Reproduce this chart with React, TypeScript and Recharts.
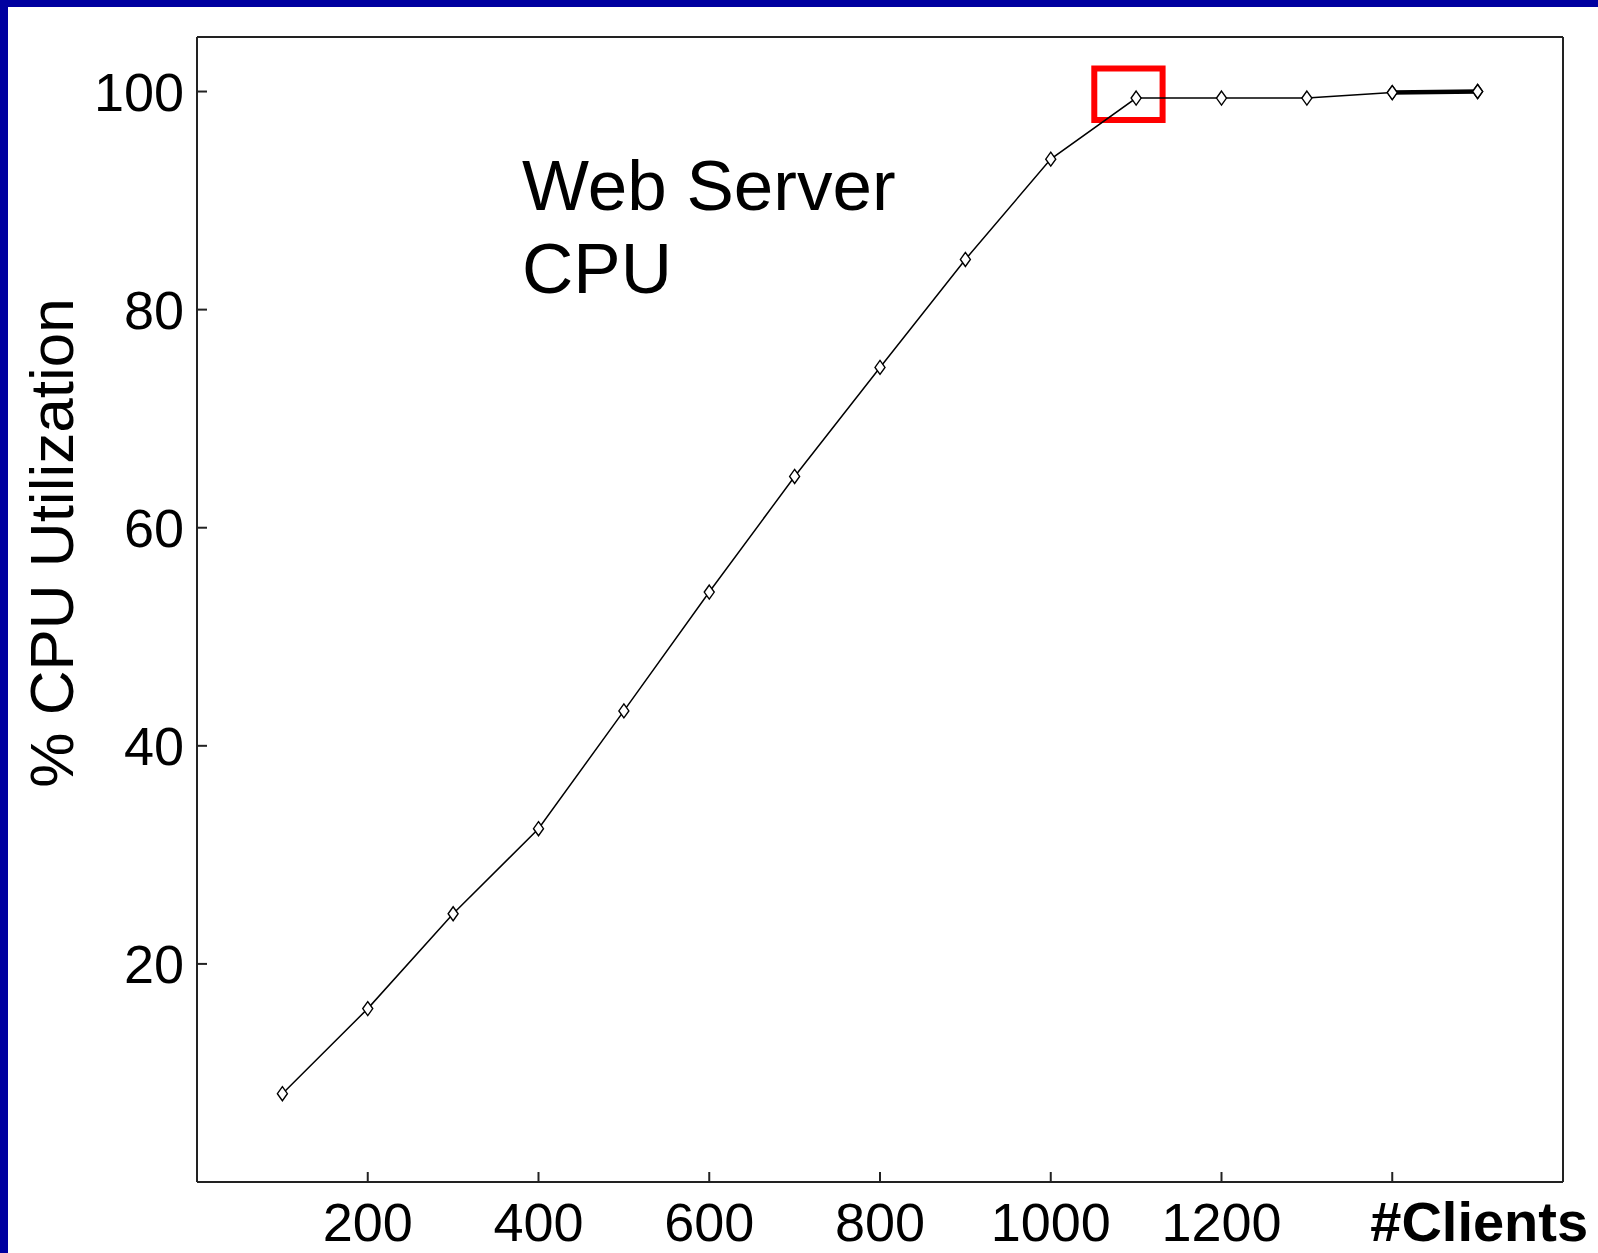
import React from 'react';
import { LineChart, Line, XAxis, YAxis, ReferenceArea } from 'recharts';

// ---- data ----
const clients = [100, 200, 300, 400, 500, 600, 700, 800, 900, 1000, 1100, 1200, 1300, 1400, 1500];
const cpuUtil = [8.1, 15.9, 24.6, 32.4, 43.2, 54.1, 64.7, 74.7, 84.6, 93.8, 99.4, 99.4, 99.4, 99.9, 100];
const saturatedClients = [1400, 1500];
const xTicks = [200, 400, 600, 800, 1000, 1200, 1400];
const xTickLabels = ['200', '400', '600', '800', '1000', '1200', '#Clients'];
const yTicks = [20, 40, 60, 80, 100];
const xDomain = [0, 1600];
const yDomain = [0, 105];
const highlightX = [1051, 1131];
const highlightY = [97.4, 102.1];
const titleLines = ['Web Server', 'CPU'];
const yAxisTitle = '% CPU Utilization';

const data = clients.map((c, i) => ({
  clients: c,
  cpu: cpuUtil[i],
  sat: saturatedClients.includes(c) ? cpuUtil[i] : null,
}));

// ---- layout ----
const W = 1598;
const H = 1253;
const PLOT_LEFT = 197;
const PLOT_BOTTOM = 1182;
const FONT = '"Liberation Sans", Arial, Helvetica, sans-serif';

const XTick = (props: any) => {
  const { x, payload } = props;
  const idx = xTicks.indexOf(payload.value);
  const label = xTickLabels[idx] ?? String(payload.value);
  const isTitle = label === '#Clients';
  return (
    <text
      x={isTitle ? x - 22 : x}
      y={PLOT_BOTTOM + 59}
      textAnchor={isTitle ? 'start' : 'middle'}
      fontFamily={FONT}
      fontSize={isTitle ? 56 : 54}
      fontWeight={isTitle ? 'bold' : 'normal'}
      fill="#000"
    >
      {label}
    </text>
  );
};

const YTick = (props: any) => {
  const { y, payload } = props;
  return (
    <text
      x={PLOT_LEFT - 13}
      y={y}
      dy={19}
      textAnchor="end"
      fontFamily={FONT}
      fontSize={54}
      fill="#000"
    >
      {payload.value}
    </text>
  );
};

const Diamond = (props: any) => {
  const { cx, cy } = props;
  if (cx == null || cy == null) return null;
  return (
    <polygon
      points={`${cx},${cy - 7} ${cx + 5},${cy} ${cx},${cy + 7} ${cx - 5},${cy}`}
      fill="#fff"
      stroke="#000"
      strokeWidth={1.4}
    />
  );
};

export default function App() {
  return (
    <div style={{ position: 'absolute', left: 0, top: 0, width: W, height: H, background: '#fff', overflow: 'hidden' }}>
      <div style={{ position: 'absolute', left: 0, top: 0 }}>
        <LineChart
          width={W}
          height={H}
          data={data}
          margin={{ top: 36, right: 34, bottom: 0, left: 0 }}
        >
          <XAxis
            xAxisId="bottom"
            dataKey="clients"
            type="number"
            domain={xDomain}
            ticks={xTicks}
            height={71}
            tickSize={-10}
            axisLine={{ stroke: '#222', strokeWidth: 2 }}
            tickLine={{ stroke: '#222', strokeWidth: 2 }}
            tick={<XTick />}
            interval={0}
          />
          <XAxis
            xAxisId="top"
            orientation="top"
            dataKey="clients"
            type="number"
            domain={xDomain}
            ticks={xTicks}
            height={1}
            tickSize={-10}
            axisLine={{ stroke: '#222', strokeWidth: 2 }}
            tickLine={{ stroke: '#222', strokeWidth: 2 }}
            tick={false}
          />
          <YAxis
            yAxisId="left"
            type="number"
            domain={yDomain}
            ticks={yTicks}
            width={197}
            tickSize={-10}
            axisLine={{ stroke: '#222', strokeWidth: 2 }}
            tickLine={{ stroke: '#222', strokeWidth: 2 }}
            tick={<YTick />}
            interval={0}
          />
          <YAxis
            yAxisId="right"
            orientation="right"
            type="number"
            domain={yDomain}
            ticks={yTicks}
            width={1}
            tickSize={-10}
            axisLine={{ stroke: '#222', strokeWidth: 2 }}
            tickLine={{ stroke: '#222', strokeWidth: 2 }}
            tick={false}
          />
          <Line
            xAxisId="bottom"
            yAxisId="left"
            type="linear"
            dataKey="cpu"
            stroke="#000"
            strokeWidth={1.5}
            dot={<Diamond />}
            activeDot={false}
            isAnimationActive={false}
          />
          <Line
            xAxisId="bottom"
            yAxisId="left"
            type="linear"
            dataKey="sat"
            stroke="#000"
            strokeWidth={4.5}
            dot={<Diamond />}
            activeDot={false}
            connectNulls={false}
            isAnimationActive={false}
          />
          <ReferenceArea
            xAxisId="bottom"
            yAxisId="left"
            x1={highlightX[0]}
            x2={highlightX[1]}
            y1={highlightY[0]}
            y2={highlightY[1]}
            fill="none"
            fillOpacity={0}
            stroke="#ff0000"
            strokeWidth={6}
            ifOverflow="visible"
          />
          <text
            x={522}
            y={210}
            fontFamily={FONT}
            fontSize={71}
            fill="#000"
          >
            <tspan x={522} y={210}>{titleLines[0]}</tspan>
            <tspan x={522} y={293}>{titleLines[1]}</tspan>
          </text>
          <text
            x={73}
            y={543}
            transform="rotate(-90, 73, 543)"
            textAnchor="middle"
            fontFamily={FONT}
            fontSize={62}
            fill="#000"
          >
            {yAxisTitle}
          </text>
        </LineChart>
      </div>
      <div style={{ position: 'absolute', left: 0, top: 0, width: W, height: 7, background: '#0000A0' }} />
      <div style={{ position: 'absolute', left: 0, top: 0, width: 8, height: H, background: '#0000A0' }} />
    </div>
  );
}
